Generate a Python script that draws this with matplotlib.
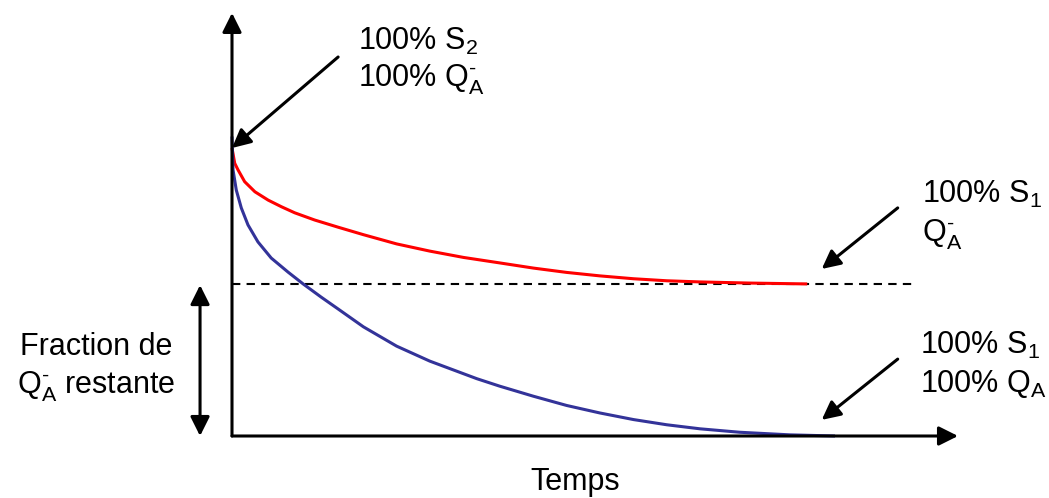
import matplotlib
matplotlib.use('Agg')
from matplotlib import pyplot as plt

plt.rcParams['font.family'] = ['Liberation Sans', 'DejaVu Sans']
plt.rcParams['mathtext.fontset'] = 'custom'
plt.rcParams['mathtext.rm'] = 'Liberation Sans'
plt.rcParams['mathtext.it'] = 'Liberation Sans'
plt.rcParams['mathtext.default'] = 'regular'

# valeurs (temps et fraction normalises)
temps_rouge = [0, 0.0045, 0.010, 0.021, 0.038, 0.060, 0.082, 0.104, 0.137,
               0.176, 0.218, 0.273, 0.328, 0.384, 0.444, 0.500, 0.555, 0.610,
               0.666, 0.721, 0.776, 0.859, 0.954]
frac_rouge = [1.0, 0.947, 0.924, 0.883, 0.848, 0.819, 0.796, 0.775, 0.750,
              0.725, 0.699, 0.667, 0.642, 0.620, 0.601, 0.583, 0.568, 0.556,
              0.546, 0.539, 0.535, 0.531, 0.528]
temps_bleu = [0, 0.0017, 0.0071, 0.0154, 0.0265, 0.043, 0.065, 0.093, 0.118,
              0.148, 0.176, 0.218, 0.273, 0.328, 0.406, 0.444, 0.500, 0.555,
              0.610, 0.666, 0.721, 0.776, 0.842, 0.925, 1.0]
frac_bleu = [1.04, 0.924, 0.854, 0.792, 0.733, 0.674, 0.618, 0.569, 0.528,
             0.482, 0.441, 0.379, 0.312, 0.260, 0.199, 0.173, 0.138, 0.106,
             0.080, 0.057, 0.039, 0.025, 0.013, 0.004, 0.0]
plateau = 0.528
plateau_fin = 1.128

FS = 22
MOINS = '\u2010'
fig = plt.figure(figsize=(10.49, 4.98), dpi=100)
ax = fig.add_axes([232 / 1049, 62 / 498, 603 / 1049, 288 / 498])
ax.set_xlim(0, 1)
ax.set_ylim(0, 1)
ax.axis('off')

ax.plot([0, plateau_fin], [plateau, plateau], color='k', lw=1.5,
        dashes=(4, 3), clip_on=False)
ax.plot(temps_rouge, frac_rouge, color='#ff0000', lw=2.2, clip_on=False,
        solid_capstyle='butt', solid_joinstyle='round')
ax.plot(temps_bleu, frac_bleu, color='#333399', lw=2.2, clip_on=False,
        solid_capstyle='butt', solid_joinstyle='round')

# axes avec fleches
axe = dict(arrowstyle='-|>', lw=2.2, color='k', mutation_scale=29,
           shrinkA=0, shrinkB=0)
ax.annotate('', xy=(0, 1.469), xytext=(0, 0), arrowprops=axe,
            annotation_clip=False)
ax.annotate('', xy=(1.204, 0), xytext=(0, 0), arrowprops=axe,
            annotation_clip=False)

# double fleche
ax.annotate('', xy=(-0.053, 0.524), xytext=(-0.053, 0.0),
            arrowprops=dict(arrowstyle='<|-|>', lw=2.2, color='k',
                            mutation_scale=29, shrinkA=0, shrinkB=0),
            annotation_clip=False)

# fleches d'annotation
fl = dict(arrowstyle='-|>', lw=2.2, color='k', mutation_scale=28,
          shrinkA=0, shrinkB=0)
ax.annotate('', xy=(0.0, 1.0), xytext=(0.176, 1.316), arrowprops=fl,
            annotation_clip=False)
ax.annotate('', xy=(0.978, 0.58), xytext=(1.104, 0.792), arrowprops=fl,
            annotation_clip=False)
ax.annotate('', xy=(0.978, 0.056), xytext=(1.104, 0.267), arrowprops=fl,
            annotation_clip=False)

# textes
qa = r'Q$_A^{' + MOINS + '}$'
ax.text(0.209, 1.340, r'100% S$_2$', fontsize=FS, va='baseline')
ax.text(0.209, 1.212, '100% ' + qa, fontsize=FS, va='baseline')
ax.text(1.144, 0.809, r'100% S$_1$', fontsize=FS, va='baseline')
ax.text(1.144, 0.674, qa, fontsize=FS, va='baseline')
ax.text(1.141, 0.285, r'100% S$_1$', fontsize=FS, va='baseline')
ax.text(1.141, 0.153, r'100% Q$_A$', fontsize=FS, va='baseline')
ax.text(-0.2255, 0.281, 'Fraction de', fontsize=FS, va='baseline', ha='center')
ax.text(-0.2255, 0.149, qa + ' restante', fontsize=FS, va='baseline',
        ha='center')
ax.text(0.569, -0.1875, 'Temps', fontsize=FS, va='baseline', ha='center')

fig.savefig('out.png', dpi=100)
